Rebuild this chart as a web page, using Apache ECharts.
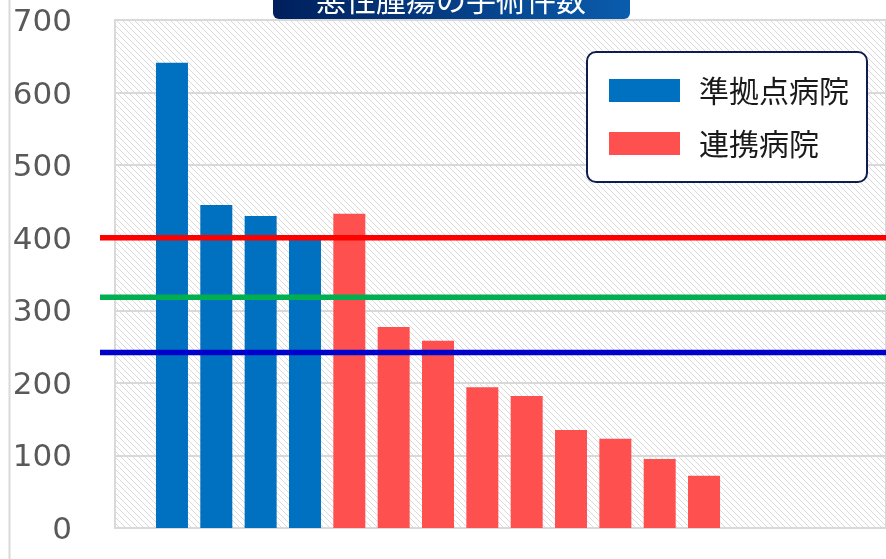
<!DOCTYPE html>
<html>
<head>
<meta charset="utf-8">
<style>
html,body{margin:0;padding:0;background:#fff;}
#chart{width:886px;height:559px;}
</style>
<script src="https://cdn.jsdelivr.net/npm/echarts@6/dist/echarts.min.js"></script>
</head>
<body>
<div id="chart"></div>
<script>
// ---- data ----
const titleText = '悪性腫瘍の手術件数';
const seriesNames = ['準拠点病院', '連携病院'];
const categories = ['A', 'B', 'C', 'D', 'E', 'F', 'G', 'H', 'I', 'J', 'K', 'L', 'M'];
const kyotenValues = [641, 445, 430, 400];
const renkeiValues = [433, 277, 258, 194, 182, 135, 123, 95, 72];
const refLineValues = [400, 318, 242];
const yTicks = [0, 100, 200, 300, 400, 500, 600, 700];

// ---- build ----
const kyotenData = categories.map((c, i) => i < kyotenValues.length ? kyotenValues[i] : null);
const renkeiData = categories.map((c, i) => i >= kyotenValues.length ? renkeiValues[i - kyotenValues.length] : null);

// hatch pattern
const pc = document.createElement('canvas');
pc.width = 6; pc.height = 6;
const pctx = pc.getContext('2d');
pctx.fillStyle = '#ffffff';
pctx.fillRect(0, 0, 6, 6);
pctx.fillStyle = '#d9d9d9';
for (let y = 0; y < 6; y++) {
  for (let x = 0; x < 6; x++) {
    const d = ((x - y) % 6 + 6) % 6;
    if (d === 0 || (d === 1 && (x + y) % 2 === 0)) pctx.fillRect(x, y, 1, 1);
  }
}

const chart = echarts.init(document.getElementById('chart'));
const yMin = yTicks[0], yMax = yTicks[yTicks.length - 1];
const refColors = ['#ff0000', '#00b050', '#0000cc'];

chart.setOption({
  animation: false,
  backgroundColor: '#ffffff',
  legend: {
    orient: 'vertical',
    left: 587, top: 52,
    padding: [23.5, 18, 23.5, 22],
    itemWidth: 71, itemHeight: 23, itemGap: 23,
    backgroundColor: '#ffffff',
    borderColor: '#0d1d4f', borderWidth: 2, borderRadius: 9,
    data: seriesNames,
    icon: 'rect',
    textStyle: { fontFamily: 'Noto Sans CJK JP', fontSize: 30, color: '#1a1a1a', padding: [0, 0, 0, 14] },
    selectedMode: false
  },
  grid: [
    { left: 115, right: -10, top: 20, bottom: 31, show: true, borderColor: '#d9d9d9', borderWidth: 2,
      backgroundColor: { image: pc, repeat: 'repeat' } },
    { left: 100, right: 0, top: 20, bottom: 31 },
    { left: 149.8, right: 159.8, top: 20, bottom: 31 }
  ],
  xAxis: [
    { gridIndex: 0, type: 'category', data: [''], axisLine: { show: true, lineStyle: { color: '#d9d9d9', width: 2 } },
      axisTick: { show: false }, axisLabel: { show: false } },
    { gridIndex: 1, type: 'category', data: ['', ''], boundaryGap: false, show: false },
    { gridIndex: 2, type: 'category', data: categories, show: false }
  ],
  yAxis: [
    { gridIndex: 0, type: 'value', min: yMin, max: yMax, interval: 100,
      axisLine: { show: false }, axisTick: { show: false },
      axisLabel: { color: '#595959', fontFamily: 'DejaVu Sans', fontSize: 31, margin: 43,
        formatter: '{a|{value}}',
        rich: { a: { color: '#595959', fontFamily: 'DejaVu Sans', fontSize: 31, padding: [6, 0, 0, 0] } } },
      splitLine: { show: true, lineStyle: { color: '#d9d9d9', width: 2 } } },
    { gridIndex: 1, type: 'value', min: yMin, max: yMax, show: false, splitLine: { show: false } },
    { gridIndex: 2, type: 'value', min: yMin, max: yMax, show: false, splitLine: { show: false } }
  ],
  series: [
    { name: seriesNames[0], type: 'bar', xAxisIndex: 2, yAxisIndex: 2, stack: 'all', barWidth: 32,
      itemStyle: { color: '#0070c0' }, data: kyotenData, z: 2 },
    { name: seriesNames[1], type: 'bar', xAxisIndex: 2, yAxisIndex: 2, stack: 'all', barWidth: 32,
      itemStyle: { color: '#ff5050' }, data: renkeiData, z: 2 }
  ].concat(refLineValues.map((v, i) => ({
    type: 'line', xAxisIndex: 1, yAxisIndex: 1, data: [v, v], symbol: 'none', silent: true,
    lineStyle: { color: refColors[i], width: 5.5 }, z: 5
  }))),
  graphic: [
    { type: 'line', shape: { x1: 9.5, y1: 0, x2: 9.5, y2: 559 }, style: { stroke: '#d9d9d9', lineWidth: 2 }, z: 1 },
    { type: 'rect', shape: { x: 273, y: -40, width: 357, height: 59, r: 6 },
      style: { fill: new echarts.graphic.LinearGradient(0, 0, 1, 0, [
        { offset: 0, color: '#001f5c' }, { offset: 1, color: '#0a5cad' }]) }, z: 10 },
    { type: 'text', x: 451, y: 0, style: { text: titleText, fill: '#ffffff', font: '30px "Noto Sans CJK JP"',
      align: 'center', verticalAlign: 'middle' }, z: 11 }
  ]
});
</script>
</body>
</html>
